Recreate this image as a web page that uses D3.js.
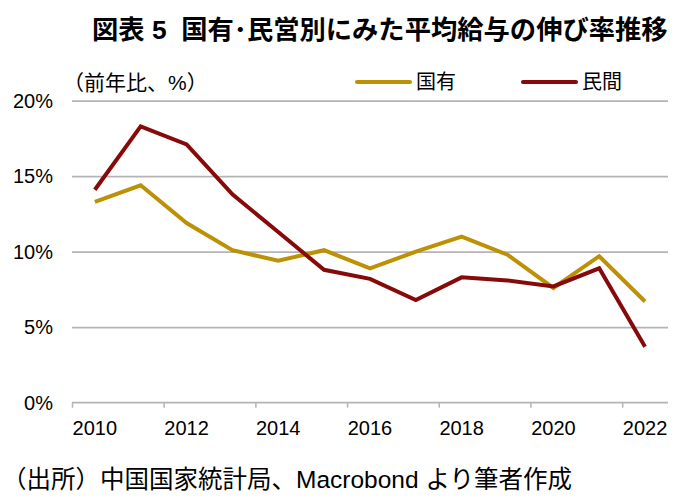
<!DOCTYPE html>
<html><head><meta charset="utf-8">
<script src="https://cdn.jsdelivr.net/npm/d3@7"></script>
<style>
html,body{margin:0;padding:0;background:#fff;}
svg{display:block;}
.cjk{font-family:"Liberation Sans","Noto Sans CJK JP",sans-serif;white-space:pre;}
</style></head>
<body>
<script>
const years = [2010,2011,2012,2013,2014,2015,2016,2017,2018,2019,2020,2021,2022];
const stateOwned = [13.3,14.4,11.9,10.1,9.4,10.1,8.9,10.0,11.0,9.8,7.6,9.7,6.7];
const privateSec = [14.1,18.3,17.1,13.8,11.3,8.8,8.2,6.8,8.3,8.1,7.7,8.9,3.7];
const seriesNames = ["国有","民間"];
const seriesColors = ["#BC9105","#870A0A"];
const yTicks = [0,5,10,15,20];
const xTickYears = [2010,2012,2014,2016,2018,2020,2022];
const titleText = "図表 5  国有･民営別にみた平均給与の伸び率推移";
const unitText = "（前年比、%）";
const sourceText = "（出所）中国国家統計局、Macrobond より筆者作成";

const W=687,H=501;
const svg=d3.select("body").append("svg").attr("width",W).attr("height",H);
const x=d3.scaleTime().domain([new Date(2010,0,1),new Date(2023,0,1)]).range([72,668]);
const y=d3.scaleLinear().domain([0,20]).range([402.7,100.7]);
const mid = yr => new Date(yr,6,2);

// gridlines
const g=svg.append("g").attr("transform","translate(72,0)")
  .call(d3.axisLeft(y).tickValues(yTicks.filter(v=>v>0)).tickSize(-596).tickFormat(""));
g.select(".domain").remove();
g.selectAll(".tick line").attr("stroke","#b4b4b4").attr("stroke-width",1.8);

// y labels
svg.append("g").selectAll("text").data(yTicks).join("text")
  .attr("x",53).attr("y",d=>y(d)).attr("dy","0.36em").attr("text-anchor","end")
  .attr("font-family","Liberation Sans, Arial, sans-serif").attr("font-size",20).attr("fill","#000")
  .text(d=>d+"%");

// x axis
const xa=svg.append("g").attr("transform",`translate(0,${y(0)})`)
  .call(d3.axisBottom(x).tickValues(xTickYears.map(v=>new Date(v,0,1))).tickSize(5).tickFormat(""));
xa.select(".domain").attr("stroke","#b4b4b4").attr("stroke-width",1.8).attr("d","M72,0H668");
xa.selectAll(".tick line").attr("stroke","#b4b4b4").attr("stroke-width",1.5);
svg.append("g").selectAll("text").data(xTickYears).join("text")
  .attr("x",d=>x(mid(d))).attr("y",435).attr("text-anchor","middle")
  .attr("font-family","Liberation Sans, Arial, sans-serif").attr("font-size",20).attr("fill","#000")
  .text(d=>d);

// lines
const line=d3.line().x(d=>x(mid(d[0]))).y(d=>y(d[1]));
[stateOwned,privateSec].forEach((s,i)=>{
  svg.append("path").datum(years.map((yr,j)=>[yr,s[j]]))
    .attr("d",line).attr("fill","none").attr("stroke",seriesColors[i])
    .attr("stroke-width",4).attr("stroke-linejoin","miter");
});

// title
svg.append("text").attr("class","cjk").attr("x",92).attr("y",39)
  .attr("font-size",26.3).attr("font-weight","bold").attr("fill","#000").text(titleText);
// unit label
svg.append("text").attr("class","cjk").attr("x",63).attr("y",90)
  .attr("font-size",21).attr("fill","#000").text(unitText);
// legend
const legX=[357,523];
seriesNames.forEach((n,i)=>{
  svg.append("line").attr("x1",legX[i]).attr("x2",legX[i]+53).attr("y1",82).attr("y2",82)
    .attr("stroke",seriesColors[i]).attr("stroke-width",4).attr("stroke-linecap","round");
  svg.append("text").attr("class","cjk").attr("x",legX[i]+59).attr("y",89)
    .attr("font-size",20).attr("fill","#000").text(n);
});
// source
svg.append("text").attr("class","cjk").attr("x",2).attr("y",488)
  .attr("font-size",24.5).attr("fill","#000").text(sourceText);
</script>
</body></html>
